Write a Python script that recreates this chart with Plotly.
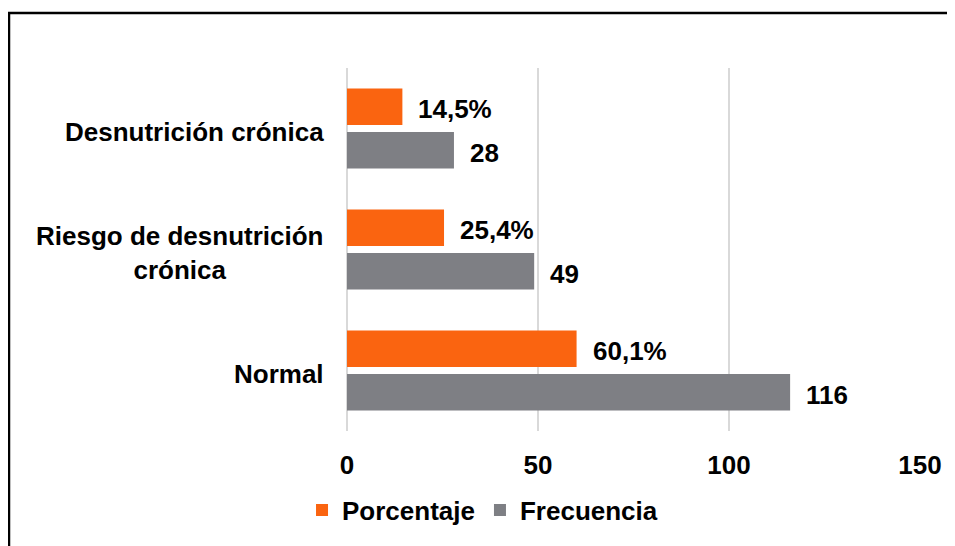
import plotly.graph_objects as go

categories = ["Normal", "Riesgo de desnutrición<br>crónica", "Desnutrición crónica"]
frecuencia = [116, 49, 28]
porcentaje = [60.1, 25.4, 14.5]
porcentaje_labels = ["60,1%", "25,4%", "14,5%"]
frecuencia_labels = ["116", "49", "28"]
x_ticks = [0, 50, 100, 150]

# page has an 8px body margin, so the figure is sized/offset accordingly
W, H = 947, 538
ML, MR, MT, MB = 339, 35, 60, 108.5
FONT = "Liberation Sans, Arial, sans-serif"
FS = 26
ORANGE = "#FA6410"
GRAY = "#7E7F84"

fig = go.Figure()
fig.add_trace(go.Bar(y=categories, x=frecuencia, orientation="h", name="<b>Frecuencia</b>",
                     marker=dict(color=GRAY, line=dict(width=0)), legendrank=2))
fig.add_trace(go.Bar(y=categories, x=porcentaje, orientation="h", name="<b>Porcentaje</b>",
                     marker=dict(color=ORANGE, line=dict(width=0)), legendrank=1))

annotations = []
n = len(categories)
for i, cat in enumerate(categories):
    annotations.append(dict(x=porcentaje[i], y=i + 0.18, xref="x", yref="y",
                            text="<b>%s</b>" % porcentaje_labels[i], showarrow=False,
                            xanchor="left", xshift=14, yshift=-2,
                            font=dict(family=FONT, size=FS, color="black")))
    annotations.append(dict(x=frecuencia[i], y=i - 0.18, xref="x", yref="y",
                            text="<b>%s</b>" % frecuencia_labels[i], showarrow=False,
                            xanchor="left", xshift=14, yshift=-3,
                            font=dict(family=FONT, size=FS, color="black")))
    annotations.append(dict(x=0, y=i, xref="paper", yref="y",
                            text="<b>%s</b>" % cat, showarrow=False,
                            xanchor="right", align="center", xshift=-21, yshift=-3,
                            font=dict(family=FONT, size=FS, color="black")))

pw = W - ML - MR
ph = H - MT - MB
fx0 = (1 - ML) / pw
fy1 = (H - MB - 4) / ph
fig.add_shape(type="rect", xref="paper", yref="paper", x0=fx0, x1=1.5, y0=-1.0, y1=fy1,
              line=dict(color="black", width=2.5), layer="above")

fig.update_layout(
    width=W, height=H,
    margin=dict(l=ML, r=MR, t=MT, b=MB, pad=0),
    paper_bgcolor="white", plot_bgcolor="white",
    barmode="group", bargap=0.28, bargroupgap=0.16,
    font=dict(family=FONT, size=FS, color="black"),
    xaxis=dict(range=[0, 150], tickvals=x_ticks, ticktext=["<b>%d</b>" % v for v in x_ticks],
               showgrid=True, gridcolor="#D9D9D9", gridwidth=1.5,
               zeroline=True, zerolinecolor="#D9D9D9", zerolinewidth=1.5,
               showline=False, ticks="", ticklabelstandoff=16,
               tickfont=dict(family=FONT, size=FS, color="black")),
    yaxis=dict(showticklabels=False, showgrid=False, zeroline=False, showline=False,
               range=[-0.5, n - 0.5]),
    legend=dict(orientation="h", x=-0.0785, xanchor="left", y=-0.153, yanchor="top",
                font=dict(family=FONT, size=FS, color="black"),
                itemsizing="constant", traceorder="normal", itemclick=False),
    annotations=annotations,
)

fig.write_html("out.html")
